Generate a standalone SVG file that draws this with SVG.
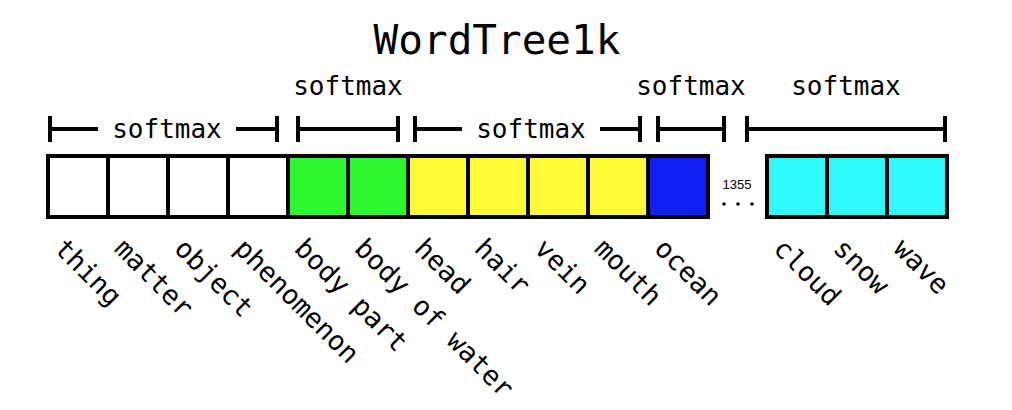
<svg xmlns="http://www.w3.org/2000/svg" width="1012" height="410" viewBox="0 0 1012 410">
<style>
.cell{stroke:#000;stroke-width:4}
.w{fill:#fff}.g{fill:#2cfa2c}.y{fill:#fdfa37}.b{fill:#1020f5}.c{fill:#2dfbfb}
.lbl{font-family:"DejaVu Sans Mono","Liberation Mono",monospace;font-size:27px;fill:#000}
.sm{font-family:"DejaVu Sans Mono","Liberation Mono",monospace;font-size:26px;fill:#000;text-anchor:middle}
.br{stroke:#000;stroke-width:4;fill:none}
</style>
<rect width="1012" height="410" fill="#fff"/>
<text x="497" y="54" font-family="DejaVu Sans Mono, Liberation Mono, monospace" font-size="41" text-anchor="middle">WordTree1k</text>
<g id="brackets">
<path class="br" d="M50 116V142M50 129H98M236 129H277M277 116V142"/>
<text class="sm" x="167" y="138">softmax</text>
<path class="br" d="M298 116V142M298 129H398M398 116V142"/>
<text class="sm" x="348" y="95">softmax</text>
<path class="br" d="M415 116V142M415 129H462M600 129H640M640 116V142"/>
<text class="sm" x="531" y="138">softmax</text>
<path class="br" d="M658 116V142M658 129H724M724 116V142"/>
<text class="sm" x="691" y="95">softmax</text>
<path class="br" d="M747 116V142M747 129H945M945 116V142"/>
<text class="sm" x="846" y="95">softmax</text>
</g>
<g id="ellipsis">
<text x="737" y="189" font-family="Liberation Sans, sans-serif" font-size="13" text-anchor="middle">1355</text>
<circle cx="724" cy="204" r="1.8"/><circle cx="738" cy="204" r="1.8"/><circle cx="752" cy="204" r="1.8"/>
</g>
<g id="n-thing"><rect class="cell w" x="48" y="156" width="60" height="61"/><text class="lbl" transform="translate(53,250) rotate(45)">thing</text></g>
<g id="n-matter"><rect class="cell w" x="108" y="156" width="60" height="61"/><text class="lbl" transform="translate(113,250) rotate(45)">matter</text></g>
<g id="n-object"><rect class="cell w" x="168" y="156" width="60" height="61"/><text class="lbl" transform="translate(173,250) rotate(45)">object</text></g>
<g id="n-phenomenon"><rect class="cell w" x="228" y="156" width="60" height="61"/><text class="lbl" transform="translate(233,250) rotate(45)">phenomenon</text></g>
<g id="n-bodypart"><rect class="cell g" x="288" y="156" width="60" height="61"/><text class="lbl" transform="translate(293,250) rotate(45)">body part</text></g>
<g id="n-bodyofwater"><rect class="cell g" x="348" y="156" width="60" height="61"/><text class="lbl" transform="translate(353,250) rotate(45)">body of water</text></g>
<g id="n-head"><rect class="cell y" x="408" y="156" width="60" height="61"/><text class="lbl" transform="translate(413,250) rotate(45)">head</text></g>
<g id="n-hair"><rect class="cell y" x="468" y="156" width="60" height="61"/><text class="lbl" transform="translate(473,250) rotate(45)">hair</text></g>
<g id="n-vein"><rect class="cell y" x="528" y="156" width="60" height="61"/><text class="lbl" transform="translate(533,250) rotate(45)">vein</text></g>
<g id="n-mouth"><rect class="cell y" x="588" y="156" width="60" height="61"/><text class="lbl" transform="translate(593,250) rotate(45)">mouth</text></g>
<g id="n-ocean"><rect class="cell b" x="648" y="156" width="60" height="61"/><text class="lbl" transform="translate(653,250) rotate(45)">ocean</text></g>
<g id="n-cloud"><rect class="cell c" x="767" y="156" width="60" height="61"/><text class="lbl" transform="translate(772,250) rotate(45)">cloud</text></g>
<g id="n-snow"><rect class="cell c" x="827" y="156" width="60" height="61"/><text class="lbl" transform="translate(832,250) rotate(45)">snow</text></g>
<g id="n-wave"><rect class="cell c" x="887" y="156" width="60" height="61"/><text class="lbl" transform="translate(892,250) rotate(45)">wave</text></g>
</svg>
